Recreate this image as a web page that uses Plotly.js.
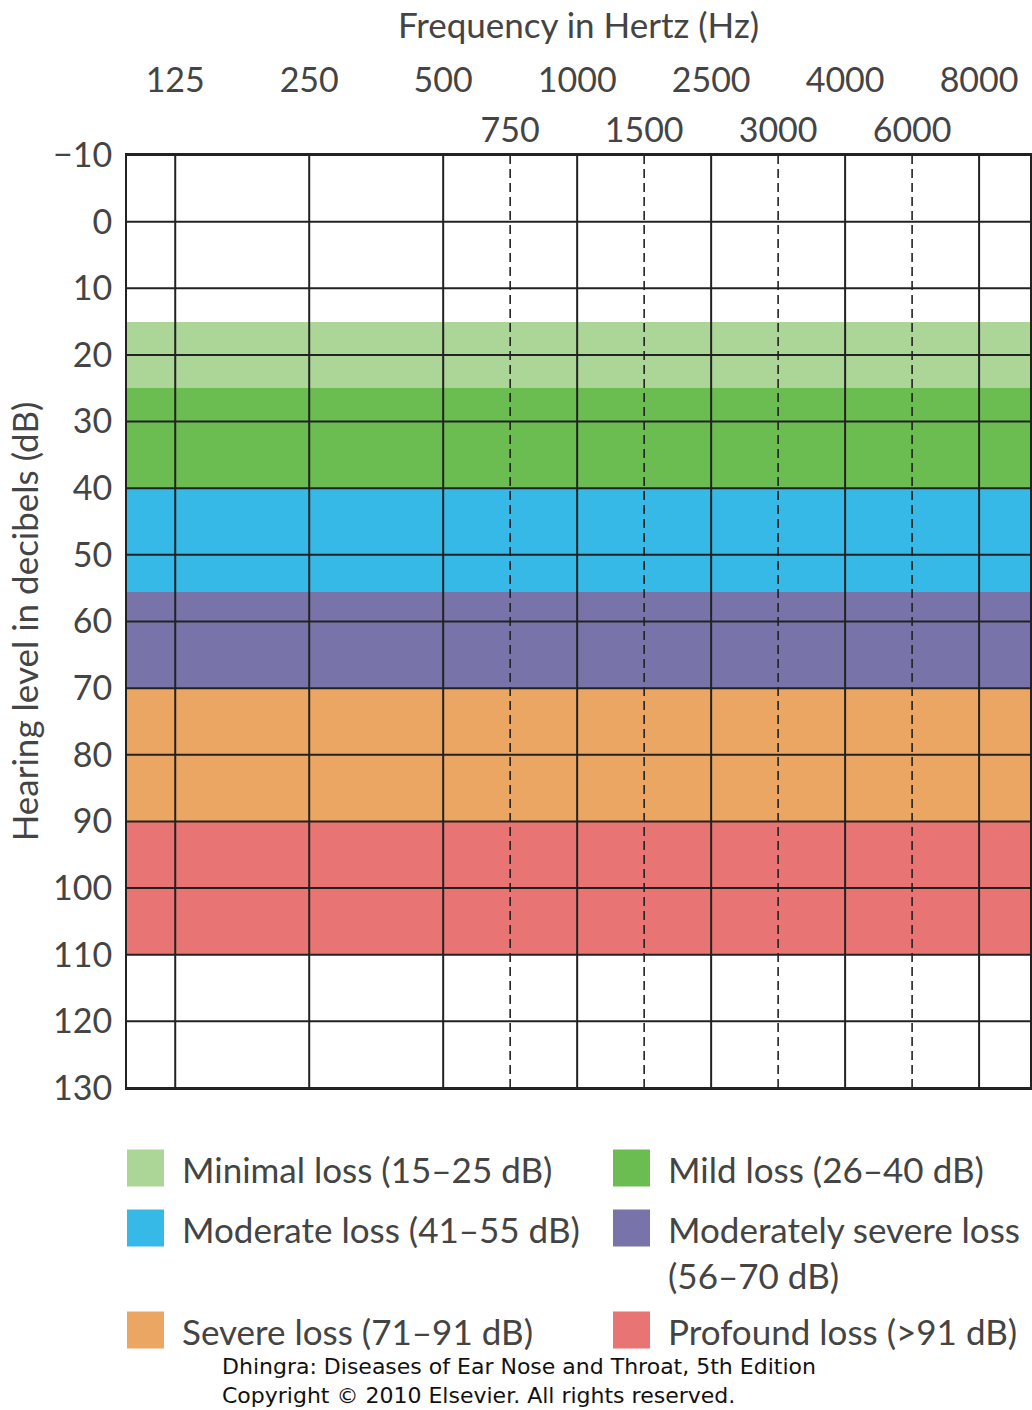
<!DOCTYPE html>
<html>
<head>
<meta charset="utf-8">
<script src="https://cdn.plot.ly/plotly-3.0.1.min.js"></script>
<style>html,body{margin:0;padding:0;background:#fff;}#chart{width:1032px;height:1410px;}</style>
</head>
<body>
<div id="chart"></div>
<script>
// ---- Data ----
const mainFreqs = ["125", "250", "500", "1000", "2500", "4000", "8000"];
const mainSlots = [0, 2, 4, 6, 8, 10, 12];          // half-octave slot of each frequency
const midFreqs = ["750", "1500", "3000", "6000"];
const midSlots = [5, 7, 9, 11];
const dbTicks = [-10, 0, 10, 20, 30, 40, 50, 60, 70, 80, 90, 100, 110, 120, 130];
const dbTickText = ["\u221210", "0", "10", "20", "30", "40", "50", "60", "70", "80", "90", "100", "110", "120", "130"];
const bandNames = ["Minimal loss (15\u201325 dB)", "Mild loss (26\u201340 dB)", "Moderate loss (41\u201355 dB)",
                   "Moderately severe loss<br>(56\u201370 dB)", "Severe loss (71\u201391 dB)", "Profound loss (>91 dB)"];
const bandLow = [15, 25, 40, 55.5, 70, 90];
const bandHigh = [25, 40, 55.5, 70, 90, 110];
const bandColors = ["#acd598", "#6cbd51", "#36b9e7", "#7874aa", "#eba663", "#e87574"];

// ---- Layout constants ----
const W = 1032, H = 1410;
const M = {l: 127, r: 2, t: 155, b: 322};
const XMIN = -0.72, XMAX = 12.76;
const YMIN = -10, YMAX = 130;
const TXT = "#444444";
const FONT = "Lato, 'Open Sans', sans-serif";

const plotW = W - M.l - M.r, plotH = H - M.t - M.b;
const px2paperX = px => (px - M.l) / plotW;
const px2paperY = py => (H - M.b - py) / plotH;

// ---- Traces ----
const bands = {
  type: "bar",
  x: bandLow.map(() => (XMIN + XMAX) / 2),
  y: bandLow.map((lo, i) => bandHigh[i] - lo),
  base: bandLow,
  width: bandLow.map(() => XMAX - XMIN),
  marker: {color: bandColors, line: {width: 0}},
  hoverinfo: "skip",
  showlegend: false
};

function hLines(vals) {
  const x = [], y = [];
  vals.forEach(v => { x.push(XMIN, XMAX, null); y.push(v, v, null); });
  return {x, y};
}
function vLines(vals) {
  const x = [], y = [];
  vals.forEach(v => { x.push(v, v, null); y.push(YMIN, YMAX, null); });
  return {x, y};
}
const hl = hLines(dbTicks);
const hGrid = {type: "scatter", mode: "lines", x: hl.x, y: hl.y, line: {color: "#222", width: 2},
  hoverinfo: "skip", showlegend: false};
const vl = vLines(mainSlots);
const vGrid = {type: "scatter", mode: "lines", x: vl.x, y: vl.y, line: {color: "#222", width: 2},
  hoverinfo: "skip", showlegend: false};
const dl = vLines(midSlots);
const dGrid = {type: "scatter", mode: "lines", x: dl.x, y: dl.y, xaxis: "x2",
  line: {color: "#222", width: 1.6, dash: "9px,5px"}, hoverinfo: "skip", showlegend: false};

// ---- Legend (manual, built from band arrays) ----
const legendCols = [127, 613];
const legendRowsY = [1168, 1228, 1330];
const sq = 37;
const shapes = [], annotations = [];
bandNames.forEach((name, i) => {
  const col = i % 2, row = Math.floor(i / 2);
  const cx = legendCols[col], cy = legendRowsY[row];
  shapes.push({type: "rect", xref: "paper", yref: "paper",
    x0: px2paperX(cx), x1: px2paperX(cx + sq),
    y0: px2paperY(cy + sq / 2), y1: px2paperY(cy - sq / 2),
    fillcolor: bandColors[i], line: {width: 0}});
  annotations.push({xref: "paper", yref: "paper", x: px2paperX(cx + sq + 16),
    y: px2paperY(cy - 22), xanchor: "left", yanchor: "top", align: "left",
    text: name, showarrow: false, font: {family: FONT, size: 35, color: TXT}});
});
annotations.push({xref: "paper", yref: "paper", x: px2paperX(220), y: px2paperY(1352),
  xanchor: "left", yanchor: "top", align: "left", showarrow: false,
  text: "Dhingra: Diseases of Ear Nose and Throat, 5th Edition<br>Copyright \u00a9 2010 Elsevier. All rights reserved.",
  font: {family: "'DejaVu Sans', sans-serif", size: 22, color: "#111"}});

const layout = {
  width: W, height: H,
  margin: M,
  paper_bgcolor: "#fff", plot_bgcolor: "#fff",
  barmode: "overlay", bargap: 0,
  showlegend: false,
  title: {text: "Frequency in Hertz (Hz)", xref: "paper", x: 0.5, xanchor: "center",
    yref: "container", y: 1 - 26 / H, yanchor: "middle",
    font: {family: FONT, size: 35, color: TXT}},
  xaxis: {range: [XMIN, XMAX], side: "top", tickvals: mainSlots, ticktext: mainFreqs,
    ticks: "", showgrid: false, zeroline: false, showline: true, mirror: true,
    linecolor: "#222", linewidth: 2, ticklabelstandoff: 47,
    tickfont: {family: FONT, size: 34, color: TXT}, fixedrange: true},
  xaxis2: {overlaying: "x", matches: "x", anchor: "y", side: "top", tickvals: midSlots, ticktext: midFreqs,
    ticks: "", showgrid: false, zeroline: false, showline: false, ticklabelstandoff: 5,
    tickfont: {family: FONT, size: 34, color: TXT}, fixedrange: true},
  yaxis: {range: [YMAX, YMIN], tickvals: dbTicks, ticktext: dbTickText, ticks: "",
    showgrid: false, zeroline: false, showline: true, mirror: true, linecolor: "#222", linewidth: 2,
    ticklabelstandoff: 6, tickfont: {family: FONT, size: 34, color: TXT},
    title: {text: "Hearing level in decibels (dB)", standoff: 4, font: {family: FONT, size: 35, color: TXT}},
    fixedrange: true},
  shapes, annotations
};

Plotly.newPlot("chart", [bands, hGrid, vGrid, dGrid], layout, {staticPlot: true, displayModeBar: false});
</script>
</body>
</html>
